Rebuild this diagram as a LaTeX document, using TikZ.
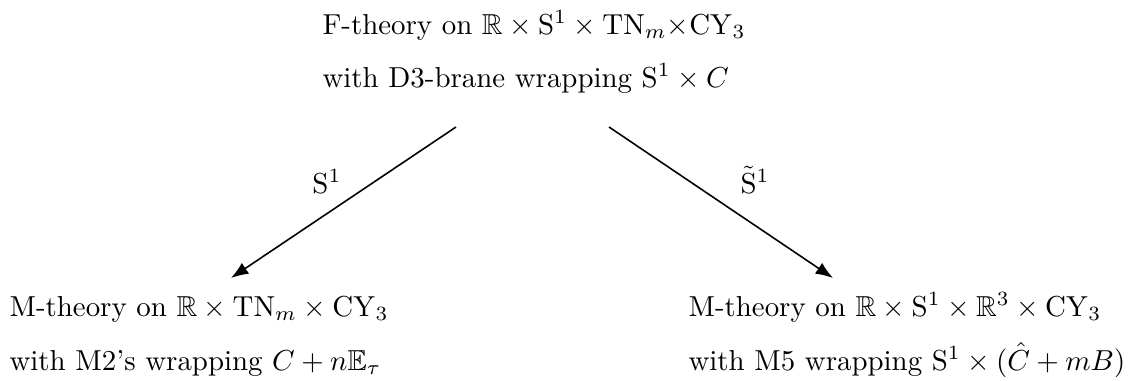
\documentclass[tikz,border=0pt]{standalone}
\usepackage{amssymb}
\usetikzlibrary{arrows.meta}
\begin{document}
\begin{tikzpicture}[x=0.3462pt,y=-0.3462pt,
  txt/.style={anchor=base west,inner sep=0pt},
  lbl/.style={anchor=base,inner sep=0pt},
  map/.style={line width=0.55pt,-{Latex[length=6pt,width=4.5pt]}}]
\useasboundingbox (0,0) rectangle (1131,380);
% top block
\node[txt] (t1) at (322,34) {F-theory on $\mathbb{R}\times\mathrm{S}^1\times\mathrm{TN}_m{\times}\mathrm{CY}_3$};
\node[txt] (t2) at (322,87) {with D3-brane wrapping $\mathrm{S}^1\times C$};
% bottom left block
\node[txt] (l1) at (9,316) {M-theory on $\mathbb{R}\times\mathrm{TN}_m\times\mathrm{CY}_3$};
\node[txt] (l2) at (9,370) {with M2's wrapping $C+n\mathbb{E}_\tau$};
% bottom right block
\node[txt] (r1) at (688,316) {M-theory on $\mathbb{R}\times\mathrm{S}^1\times\mathbb{R}^3\times\mathrm{CY}_3$};
\node[txt] (r2) at (688,370) {with M5 wrapping $\mathrm{S}^1\times(\hat{C}+mB)$};
% arrows
\coordinate (ls) at (456,127);
\coordinate (le) at (231,278);
\coordinate (rs) at (609,127);
\coordinate (re) at (833,278);
\draw[map] (ls) -- (le);
\draw[map] (rs) -- (re);
\node[lbl] (sl) at (327,193) {$\mathrm{S}^1$};
\node[lbl] (sr) at (755,193) {$\tilde{\mathrm{S}}^1$};
\end{tikzpicture}
\end{document}
